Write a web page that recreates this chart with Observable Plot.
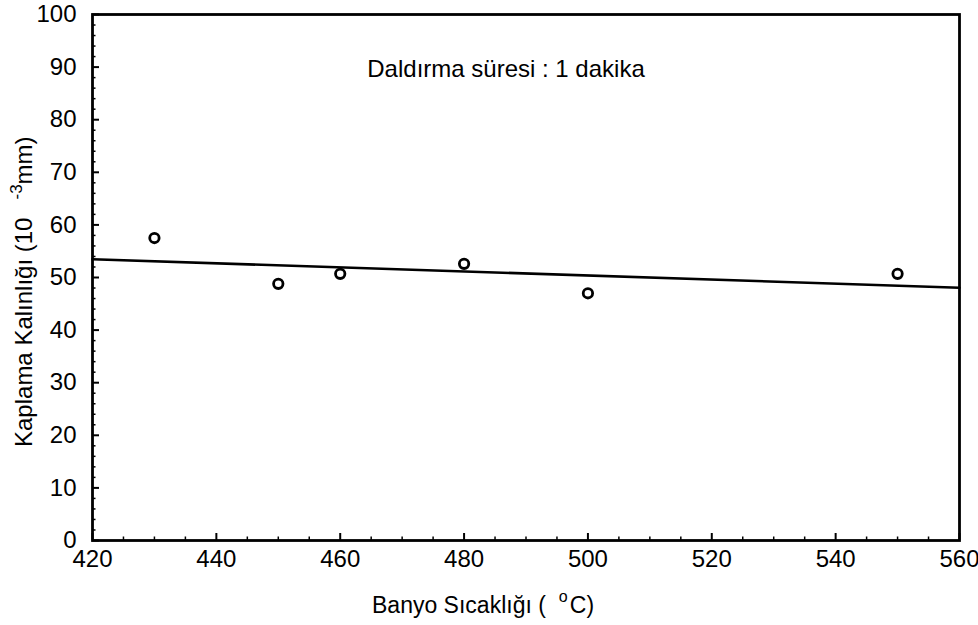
<!DOCTYPE html>
<html><head><meta charset="utf-8">
<script src="https://cdn.jsdelivr.net/npm/d3@7"></script>
<script src="https://cdn.jsdelivr.net/npm/@observablehq/plot@0.6"></script>
<style>
body{margin:0;background:#fff}
svg{font-family:"Liberation Sans",Arial,sans-serif}
</style>
</head><body><div id="chart"></div>
<script>
// ---- data ----
const temps = [430, 450, 460, 480, 500, 550];
const thickness = [57.5, 48.8, 50.7, 52.6, 47.0, 50.7];
const xTicks = [420, 440, 460, 480, 500, 520, 540, 560];
const yTicks = [0, 10, 20, 30, 40, 50, 60, 70, 80, 90, 100];
const xMinor = [425, 430, 435, 445, 450, 455, 465, 470, 475, 485, 490, 495, 505, 510, 515, 525, 530, 535, 545, 550, 555];
const yMinor = [2,4,6,8,12,14,16,18,22,24,26,28,32,34,36,38,42,44,46,48,52,54,56,58,62,64,66,68,72,74,76,78,82,84,86,88,92,94,96,98];
const annotation = ["Daldırma süresi : 1 dakika"];
const xTitle = ["Banyo Sıcaklığı (", "o", "C)"];
const yTitle = ["Kaplama Kalınlığı (10", "-3", "mm)"];
const xDomain = [420, 560];
const yDomain = [0, 100];

// ---- derived ----
const points = temps.map((t, i) => ({t, v: thickness[i]}));
const mx = d3.mean(temps), my = d3.mean(thickness);
const slope = d3.sum(temps, (t, i) => (t - mx) * (thickness[i] - my)) / d3.sum(temps, t => (t - mx) ** 2);
const fit = xDomain.map(t => ({t, v: my + slope * (t - mx)}));

const W = 978, H = 625, mL = 92, mR = 19, mT = 14, mB = 85;
const pw = W - mL - mR, ph = H - mT - mB;
const FS = 24;

const plot = Plot.plot({
  width: W, height: H,
  marginLeft: mL, marginRight: mR, marginTop: mT, marginBottom: mB,
  style: {fontFamily: '"Liberation Sans", Arial, sans-serif', fontSize: FS + "px", color: "#000", background: "#fff", overflow: "visible"},
  x: {domain: xDomain},
  y: {domain: yDomain},
  marks: [
    Plot.axisX({ticks: xTicks, tickSize: 0, tickPadding: 9, label: null, tickFormat: d => String(d), fontSize: FS}),
    Plot.axisY({ticks: yTicks, tickSize: 0, tickPadding: 16, label: null, tickFormat: d => String(d), fontSize: FS}),
    Plot.tickX(xTicks, {x: d => d, insetTop: ph - 7, stroke: "#000", strokeWidth: 2}),
    Plot.tickX(xMinor, {x: d => d, insetTop: ph - 3.5, stroke: "#000", strokeWidth: 1.5}),
    Plot.tickY(yTicks, {y: d => d, insetRight: pw - 7, stroke: "#000", strokeWidth: 2}),
    Plot.tickY(yMinor, {y: d => d, insetRight: pw - 3.5, stroke: "#000", strokeWidth: 1.5}),
    Plot.line(fit, {x: "t", y: "v", stroke: "#000", strokeWidth: 2.6}),
    Plot.dot(points, {x: "t", y: "v", r: 4.7, stroke: "#000", strokeWidth: 2.8, fill: "#fff"}),
    Plot.text(annotation, {frameAnchor: "top", dx: -20, dy: 45, lineAnchor: "top", fontSize: FS, fill: "#000"}),
    Plot.frame({stroke: "#000", strokeWidth: 2.8})
  ]
});
document.getElementById("chart").appendChild(plot);

const svg = d3.select(plot);
// x title
const xt = svg.append("text").attr("x", 372).attr("y", 613)
  .attr("font-size", 23).attr("fill", "#000").attr("text-anchor", "start");
xt.append("tspan").text(xTitle[0]);
xt.append("tspan").attr("dx", 13).attr("dy", -11).attr("font-size", 16).text(xTitle[1]);
xt.append("tspan").attr("dx", 2).attr("dy", 11).text(xTitle[2]);
// y title
const yt = svg.append("text").attr("transform", "translate(32,447) rotate(-90)")
  .attr("font-size", FS).attr("fill", "#000").attr("text-anchor", "start");
yt.append("tspan").text(yTitle[0]);
yt.append("tspan").attr("dx", 18).attr("dy", -10).attr("font-size", 17).text(yTitle[1]);
yt.append("tspan").attr("dy", 10).text(yTitle[2]);
</script>
</body></html>
